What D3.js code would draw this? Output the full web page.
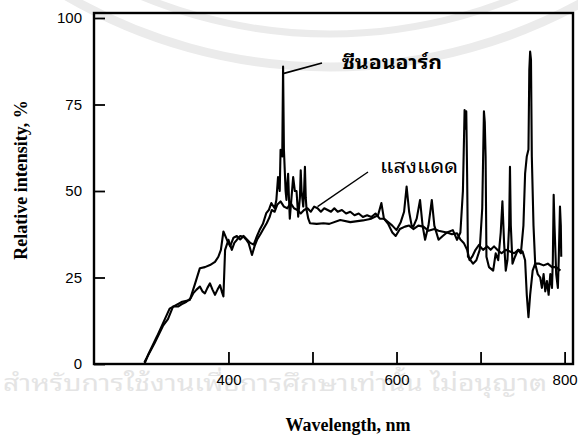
<!DOCTYPE html>
<meta charset="utf-8">
<html>
<script src="https://cdnjs.cloudflare.com/ajax/libs/d3/7.8.5/d3.min.js"></script>
<style>
  body { margin: 0; background: #fff; }
  .thai { font-family: "Noto Sans Thai Looped", "Loma", "Garuda", "Tlwg Typo", "Kinnari", "Noto Sans Thai", "Noto Sans", sans-serif; }
</style>
<body>
<div id="chart"></div>
<script>

// xenon arc spectrum (spiky curve), wavelength nm / relative intensity %
const xenonNm = [300,305,315,330,345,354,360,366,372,378,384,388,391,394,398,402,406,410,414,418,422,426,430,434,437,441,445,448,451,455,457,459,461,462,464,465,466,467,468,469,470,471,472,473,475,477,479,481,483,485,486,487,489,490,491,492,493,495,497,505,513,520,533,545,560,570,578,582,585,590,595,600,605,609,612,615,618,620,624,628,631,634,638,642,645,650,655,660,667,672,676,679,681,682,683,684,685,688,691,695,699,702,704,705,706,707,710,715,718,721,724,726,728,730,732,734,735,736,738,741,744.5,748,751,753,755,757,758,759,760,761,763,765,768,771,773,775,777,779,781,783,785,786,787,788,790,792,793,794.5,795.5,796];
const xenonVal = [0,3,8,16,18,18.5,23,27.7,28,28.6,29.5,31,33,38.3,36,34,36.5,37,36,37,36,35,34.5,37,38.7,40.5,43.6,44.5,46.5,45,47.4,54,50,61.9,60,86,62,56,50,47.4,52,55,48,42,48,54,50,50,42.6,48,56,50,45.5,50,57,48,44.5,42,40.7,40.5,40.7,40.5,41.6,41,41.5,42,43,46.5,42,41,40,38.7,41,44,51.3,44,40,39.7,42,47.4,40,35.9,40,47.4,40,35.9,37,38,38.7,35.9,38,50,73.4,68,73,55,31,30,29,30,33,45,73,70,60,31,28,27,32,30,38,47,35,27,30,40,57,40,29,31,33,32,40,55,60,62,85,90.3,88,60,40,29,26,25,22,26,21,24,20,26,22,30,48.9,40,26,22,30,45.5,40,31];

// sunlight spectrum (smoother curve)
const sunNm = [300,312,322,328,334,340,346,350,355,358,362,366,369,372,375,378,381,384,387,390,392,394,396,400,404,407,410,414,418,421,424,428,431,434,438,441,445.5,449,451.5,455,458,462,466,470,474,478,482,486,490,494,498,502,506,510,514,518,522,526,530,535,540,545,550,555,560,565,570,575,580,585,590,595,599,604,610,615,620,626,632,638,645,650,654,660,666,672,676,680,684,687,690,694,698,703,708,712,716,720,725,730,735,740,745,750,753,755,757,759,762,765,770,775,780,785,790,795];
const sunVal = [0.5,6,11,13,16.6,16.6,17.5,18,19,20.4,21.5,22.4,21,20.4,22,23.3,21.5,20,21.5,22.8,21,19.5,33,35.9,33,35,35.9,37,36.8,36,34.9,31.5,34,35.9,37.5,38.8,40.7,42.5,44.5,44,46,47,45.5,45,46.5,45,44.5,43.5,44.5,45,44,45.5,45,44,45,44.5,44,45,44,44.5,43.5,44,43,43.5,42.5,43,42.5,43.5,42,42,40.5,38,37,39,39.7,40,39,40,39.7,38.5,39,38.5,38.3,38,37.5,37.8,36,35,33,30,31,33,34.4,33,34,33,34,33,32,33,32.5,32,33,32.5,30,20,13.5,20,27,29,29,28.5,29,28,28,27];

const xTicks = [400, 500, 600, 700, 800];
const xLabels = [400, 600, 800];
const yTicks = [0, 25, 50, 75, 100];

const width = 578, height = 438;
const plotL = 94, plotR = 573, plotT = 13, plotB = 364;

const svg = d3.select("#chart").append("svg")
    .attr("width", width)
    .attr("height", height);

svg.append("rect").attr("width", width).attr("height", height).attr("fill", "#fff");

// faint watermark (logo arcs at the top, text line under the axis)
const arcs = svg.append("g").attr("fill", "none").attr("stroke", "#ebebeb");
[[525, 9], [492, 7]].forEach(([r, w]) => {
  const p = d3.path();
  p.arc(330, 67 - 525, r, Math.PI * 0.33, Math.PI * 0.67);
  arcs.append("path").attr("d", p.toString()).attr("stroke-width", w);
});

svg.append("text")
    .attr("class", "thai")
    .attr("x", 3).attr("y", 391)
    .attr("textLength", 544).attr("lengthAdjust", "spacingAndGlyphs")
    .style("font-size", "22px")
    .attr("fill", "#e4e4e4")
    .text("สำหรับการใช้งานเพื่อการศึกษาเท่านั้น ไม่อนุญาต");

const x = d3.scaleLinear().domain([240, 810]).range([plotL, plotR]);
const y = d3.scaleLinear().domain([0, 100]).range([plotB, 18]);

// x axis, ticks point inward
const xAxis = svg.append("g")
    .attr("transform", `translate(0,${plotB})`)
    .call(d3.axisBottom(x).tickValues(xTicks).tickSizeInner(-12).tickSizeOuter(0).tickPadding(10)
        .tickFormat(d => xLabels.includes(d) ? d : ""));
xAxis.select(".domain").remove();
xAxis.selectAll("line").attr("stroke", "#000").attr("stroke-width", 1.8);
xAxis.selectAll("text").style("font-family", "Liberation Sans, Arial, sans-serif").style("font-size", "15px").attr("fill", "#000");

const yAxis = svg.append("g")
    .attr("transform", `translate(${plotL},0)`)
    .call(d3.axisLeft(y).tickValues(yTicks).tickSizeInner(-11).tickSizeOuter(0).tickPadding(12));
yAxis.select(".domain").remove();
yAxis.selectAll("line").attr("stroke", "#000").attr("stroke-width", 1.8);
yAxis.selectAll("text").style("font-family", "Liberation Sans, Arial, sans-serif").style("font-size", "15px").attr("fill", "#000");

// frame
svg.append("rect")
    .attr("x", plotL).attr("y", plotT)
    .attr("width", plotR - plotL).attr("height", plotB - plotT)
    .attr("fill", "none").attr("stroke", "#000").attr("stroke-width", 2.4);

const line = d3.line().x(d => x(d[0])).y(d => y(d[1]));

svg.append("path")
    .datum(sunNm.map((n, i) => [n, sunVal[i]]))
    .attr("d", line)
    .attr("fill", "none").attr("stroke", "#000").attr("stroke-width", 2.1)
    .attr("stroke-linejoin", "round");

svg.append("path")
    .datum(xenonNm.map((n, i) => [n, xenonVal[i]]))
    .attr("d", line)
    .attr("fill", "none").attr("stroke", "#000").attr("stroke-width", 2.1)
    .attr("stroke-linejoin", "round");

// annotations
svg.append("line")
    .attr("x1", x(466)).attr("y1", y(84)).attr("x2", 322).attr("y2", 63)
    .attr("stroke", "#000").attr("stroke-width", 1.6);
svg.append("text")
    .attr("class", "thai")
    .attr("x", 342).attr("y", 69)
    .attr("textLength", 100).attr("lengthAdjust", "spacingAndGlyphs")
    .style("font-size", "19px").style("font-weight", "bold")
    .text("ซีนอนอาร์ก");

svg.append("line")
    .attr("x1", x(506)).attr("y1", y(45.5)).attr("x2", 368).attr("y2", 172)
    .attr("stroke", "#000").attr("stroke-width", 1.4);
svg.append("text")
    .attr("class", "thai")
    .attr("x", 380).attr("y", 173)
    .attr("textLength", 78).attr("lengthAdjust", "spacingAndGlyphs")
    .style("font-size", "19px")
    .text("แสงแดด");

// axis titles
svg.append("text")
    .attr("x", 348).attr("y", 431)
    .attr("text-anchor", "middle")
    .style("font-family", "Liberation Serif, Times New Roman, serif")
    .style("font-size", "18px").style("font-weight", "bold")
    .text("Wavelength, nm");

svg.append("text")
    .attr("transform", "translate(27,180) rotate(-90)")
    .attr("text-anchor", "middle")
    .style("font-family", "Liberation Serif, Times New Roman, serif")
    .style("font-size", "18px").style("font-weight", "bold")
    .text("Relative intensity, %");

</script>
</body>
</html>
